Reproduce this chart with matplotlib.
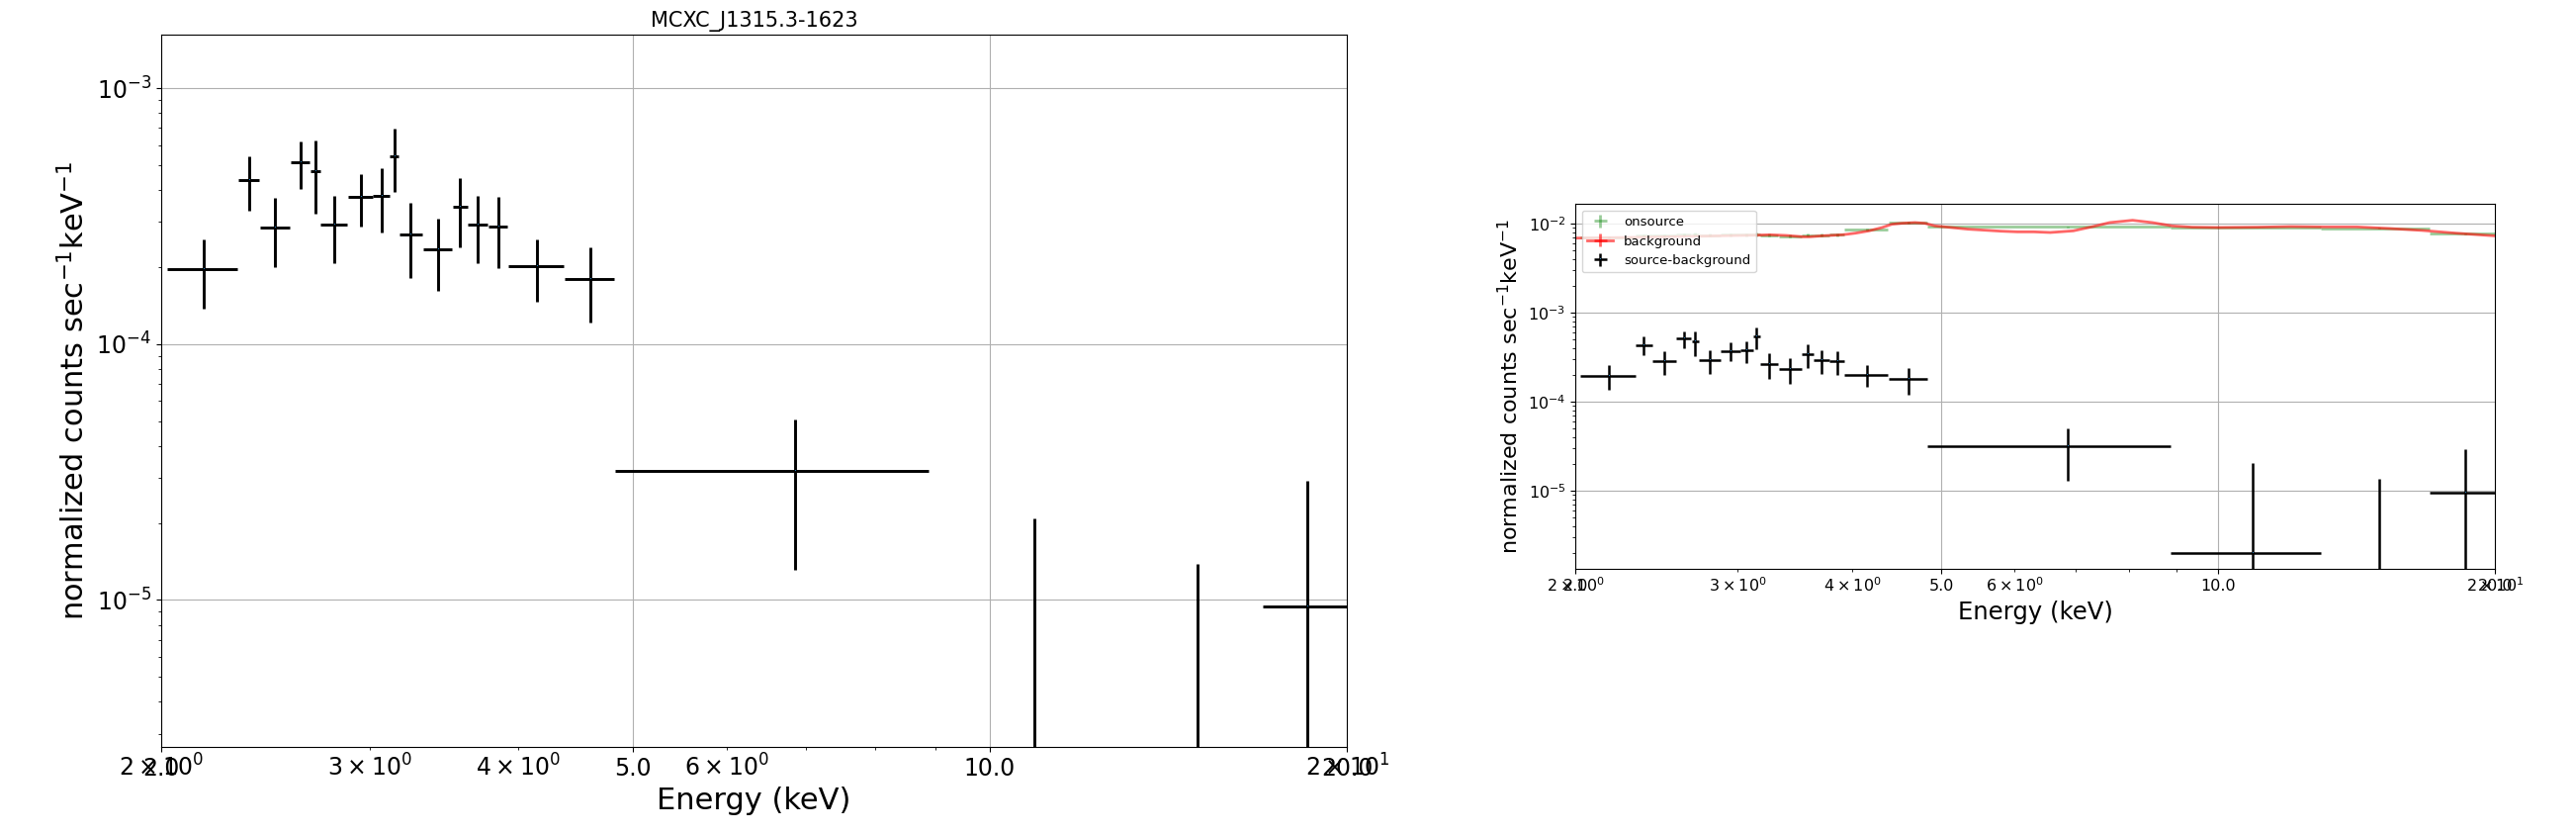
import matplotlib
matplotlib.use("Agg")
import matplotlib.pyplot as plt
from matplotlib.ticker import LogFormatterSciNotation

# source - background spectrum (bin centre, half width in keV; normalized counts/s/keV)
energy = [2.173, 2.373, 2.497, 2.622, 2.699, 2.800, 2.947, 3.070, 3.148, 3.250,
          3.424, 3.575, 3.700, 3.849, 4.149, 4.603, 6.850, 10.90, 14.95, 18.53]
energy_err = [0.149, 0.049, 0.073, 0.049, 0.025, 0.074, 0.072, 0.050, 0.027, 0.073,
              0.097, 0.052, 0.073, 0.071, 0.225, 0.223, 2.021, 2.030, 2.020, 1.560]
rate = [1.97e-4, 4.36e-4, 2.86e-4, 5.12e-4, 4.73e-4, 2.94e-4, 3.75e-4, 3.79e-4, 5.43e-4, 2.69e-4,
        2.35e-4, 3.43e-4, 2.93e-4, 2.87e-4, 2.02e-4, 1.80e-4, 3.20e-5, 2.0e-6, 5.0e-7, 9.45e-6]
rate_err = [0.595e-4, 1.04e-4, 0.86e-4, 1.08e-4, 1.50e-4, 0.87e-4, 0.88e-4, 1.06e-4, 1.50e-4, 0.87e-4,
            0.74e-4, 1.04e-4, 0.86e-4, 0.88e-4, 0.55e-4, 0.59e-4, 1.89e-5, 1.88e-5, 1.33e-5, 1.975e-5]

# onsource spectrum, same binning
onsource = [7.1e-3, 7.4e-3, 7.4e-3, 7.6e-3, 7.6e-3, 7.5e-3, 7.6e-3, 7.6e-3, 7.7e-3, 7.5e-3,
            7.3e-3, 7.5e-3, 7.5e-3, 7.6e-3, 8.6e-3, 1.03e-2, 9.3e-3, 9.1e-3, 8.9e-3, 7.8e-3]
onsource_err = [2e-4, 3e-4, 3e-4, 3e-4, 4e-4, 3e-4, 3e-4, 3e-4, 4e-4, 3e-4,
                3e-4, 3e-4, 3e-4, 3e-4, 2e-4, 2e-4, 1e-4, 1e-4, 1e-4, 1e-4]

# background spectrum (fine binning)
bkg_energy = [2.00, 2.30, 2.60, 2.90, 3.15, 3.255, 3.392, 3.534, 3.593, 3.713,
              3.903, 4.032, 4.17, 4.309, 4.416, 4.527, 4.678, 4.797, 4.917, 5.125,
              5.341, 5.566, 5.80, 6.045, 6.30, 6.564, 6.953, 7.306, 7.614, 8.066,
              8.476, 8.907, 9.359, 9.996, 11.03, 11.99, 13.02, 14.14, 15.36, 16.68,
              18.11, 19.91]
bkg_rate = [6.92e-3, 7.05e-3, 7.20e-3, 7.35e-3, 7.47e-3, 7.54e-3, 7.41e-3, 7.16e-3, 7.16e-3, 7.35e-3,
            7.54e-3, 7.87e-3, 8.35e-3, 9.10e-3, 9.91e-3, 1.016e-2, 1.034e-2, 1.016e-2, 9.49e-3, 9.10e-3,
            8.72e-3, 8.50e-3, 8.28e-3, 8.14e-3, 8.14e-3, 8.00e-3, 8.35e-3, 9.33e-3, 1.034e-2, 1.098e-2,
            1.034e-2, 9.49e-3, 9.18e-3, 9.10e-3, 9.18e-3, 9.33e-3, 9.25e-3, 9.25e-3, 8.87e-3, 8.43e-3,
            7.87e-3, 7.35e-3]

major_ticks = [2, 5, 10, 20]
major_labels = ['2.0', '5.0', '10.0', '20.0']
ylabel = r'normalized counts sec$^{-1}$keV$^{-1}$'


def setup(ax, tick_size):
    ax.set_xscale('log')
    ax.set_yscale('log')
    ax.xaxis.remove_overlapping_locs = False
    ax.set_xticks(major_ticks, labels=major_labels)
    ax.xaxis.set_minor_formatter(LogFormatterSciNotation(labelOnlyBase=False,
                                                         minor_thresholds=(2, 0.4)))
    ax.tick_params(axis='both', which='both', labelsize=tick_size)
    ax.set_xlim(2, 20)
    ax.grid(True)


fig = plt.figure(figsize=(26.05, 8.43), dpi=100)

#left: source - background only
ax1 = fig.add_axes([0.0624, 0.1046, 0.4605, 0.8533])
setup(ax1, 17)
ax1.errorbar(energy, rate, xerr=energy_err, yerr=rate_err, fmt=',',
             ecolor='black', elinewidth=2.1)
ax1.set_ylim(2.67e-6, 1.613e-3)
ax1.set_title('MCXC_J1315.3-1623', fontsize=15)
ax1.set_xlabel('Energy (keV)', fontsize=22)
ax1.set_ylabel(ylabel, fontsize=22)

#right: onsource, background and difference
ax2 = fig.add_axes([0.6116, 0.3176, 0.3571, 0.4380])
setup(ax2, 11.5)
ax2.errorbar(energy, onsource, xerr=energy_err, yerr=onsource_err, fmt='none',
             ecolor='green', elinewidth=2, alpha=0.4, label='onsource')
ax2.errorbar(bkg_energy, bkg_rate, xerr=0, yerr=0, fmt='-', color='red',
             lw=2, alpha=0.6, label='background')
ax2.errorbar(energy, rate, xerr=energy_err, yerr=rate_err, fmt=',',
             ecolor='black', elinewidth=1.8, label='source-background')
ax2.set_ylim(1.32e-6, 1.68e-2)
ax2.set_xlabel('Energy (keV)', fontsize=17.5)
ax2.set_ylabel(ylabel, fontsize=16)
ax2.legend(loc='upper left', fontsize=9.5)

plt.savefig('out.png', dpi=100)
